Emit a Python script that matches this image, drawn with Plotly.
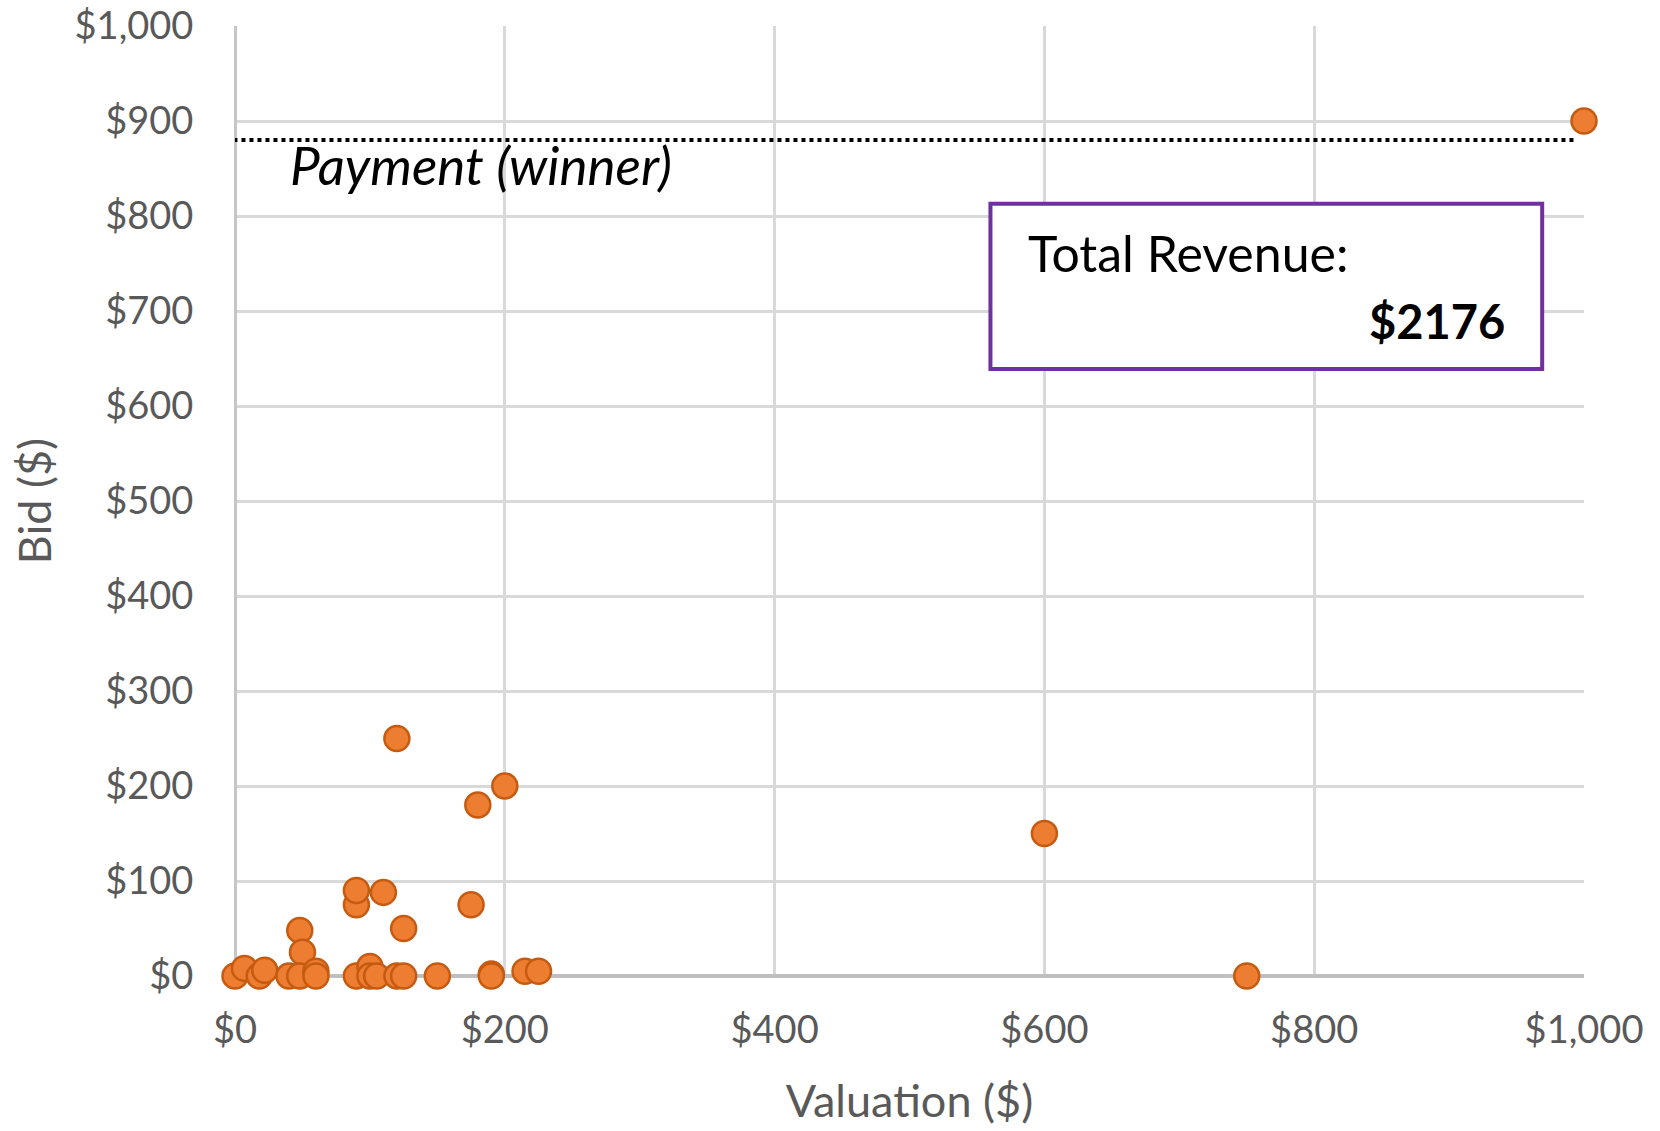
import plotly.graph_objects as go

valuations = [0, 7, 18, 22, 40, 48, 50, 48, 60, 60, 90, 90, 90, 100, 100, 105, 110, 120, 120,
              125, 125, 150, 175, 180, 190, 190, 200, 215, 225, 600, 750, 1000]
bids = [0, 8, 0, 6, 0, 48, 25, 0, 5, 0, 0, 75, 90, 10, 0, 0, 88, 250, 0,
        50, 0, 0, 75, 180, 2, 0, 200, 5, 5, 150, 0, 900]
payment_level = 880
payment_label = "Payment (winner)"
revenue_label = "Total Revenue:"
revenue_value = "$2176"
tick_vals = [0, 100, 200, 300, 400, 500, 600, 700, 800, 900, 1000]
x_tick_vals = [0, 200, 400, 600, 800, 1000]

FONT = "Lato"
GRAY = "#595959"

fig = go.Figure()
fig.add_trace(go.Scatter(
    x=valuations, y=bids, mode="markers",
    marker=dict(size=25, color="#ED7D31", line=dict(color="#C55A11", width=2.5)),
    showlegend=False, cliponaxis=False,
))

fig.add_shape(type="line", x0=-13, x1=995, y0=payment_level, y1=payment_level,
              line=dict(color="black", width=4, dash="4px,4px"))
fig.add_shape(type="rect", x0=560, x1=969, y0=639, y1=813,
              line=dict(color="#7030A0", width=4), fillcolor="white")

fig.add_annotation(x=39, y=854, text=payment_label, showarrow=False, xanchor="left",
                   font=dict(family=FONT, size=53, color="black", style="italic"))
fig.add_annotation(x=586, y=761, text=revenue_label, showarrow=False, xanchor="left",
                   font=dict(family=FONT, size=50, color="black"))
fig.add_annotation(x=943, y=690, text="<b>" + revenue_value + "</b>", showarrow=False, xanchor="right",
                   font=dict(family=FONT, size=47, color="black"))

fig.update_layout(
    width=1660, height=1131,
    margin=dict(l=235, r=76, t=26, b=155),
    plot_bgcolor="white", paper_bgcolor="white",
    font=dict(family=FONT, color=GRAY),
)
fig.update_xaxes(
    range=[0, 1000], tickvals=x_tick_vals,
    ticktext=["$" + format(v, ",") for v in x_tick_vals],
    showgrid=True, gridcolor="#D9D9D9", gridwidth=2.5,
    zeroline=True, zerolinecolor="#C6C6C6", zerolinewidth=3,
    showline=False, automargin=False, ticklabeloverflow="allow",
    ticks="outside", ticklen=20, tickcolor="rgba(0,0,0,0)",
    tickfont=dict(family=FONT, size=38, color=GRAY),
    title=dict(text="Valuation ($)", font=dict(family=FONT, size=45, color=GRAY), standoff=35),
)
fig.update_yaxes(
    range=[0, 1000], tickvals=tick_vals,
    ticktext=["$" + format(v, ",") for v in tick_vals],
    showgrid=True, gridcolor="#D9D9D9", gridwidth=2.5,
    zeroline=True, zerolinecolor="#BFBFBF", zerolinewidth=3.5,
    showline=False, automargin=False, ticklabeloverflow="allow",
    ticks="outside", ticklen=33, tickcolor="rgba(0,0,0,0)",
    tickfont=dict(family=FONT, size=38, color=GRAY),
    title=dict(text="Bid ($)", font=dict(family=FONT, size=45, color=GRAY), standoff=8),
)

fig.write_html("out.html", config={"displayModeBar": False},
               post_script="document.body.style.margin='0';")
